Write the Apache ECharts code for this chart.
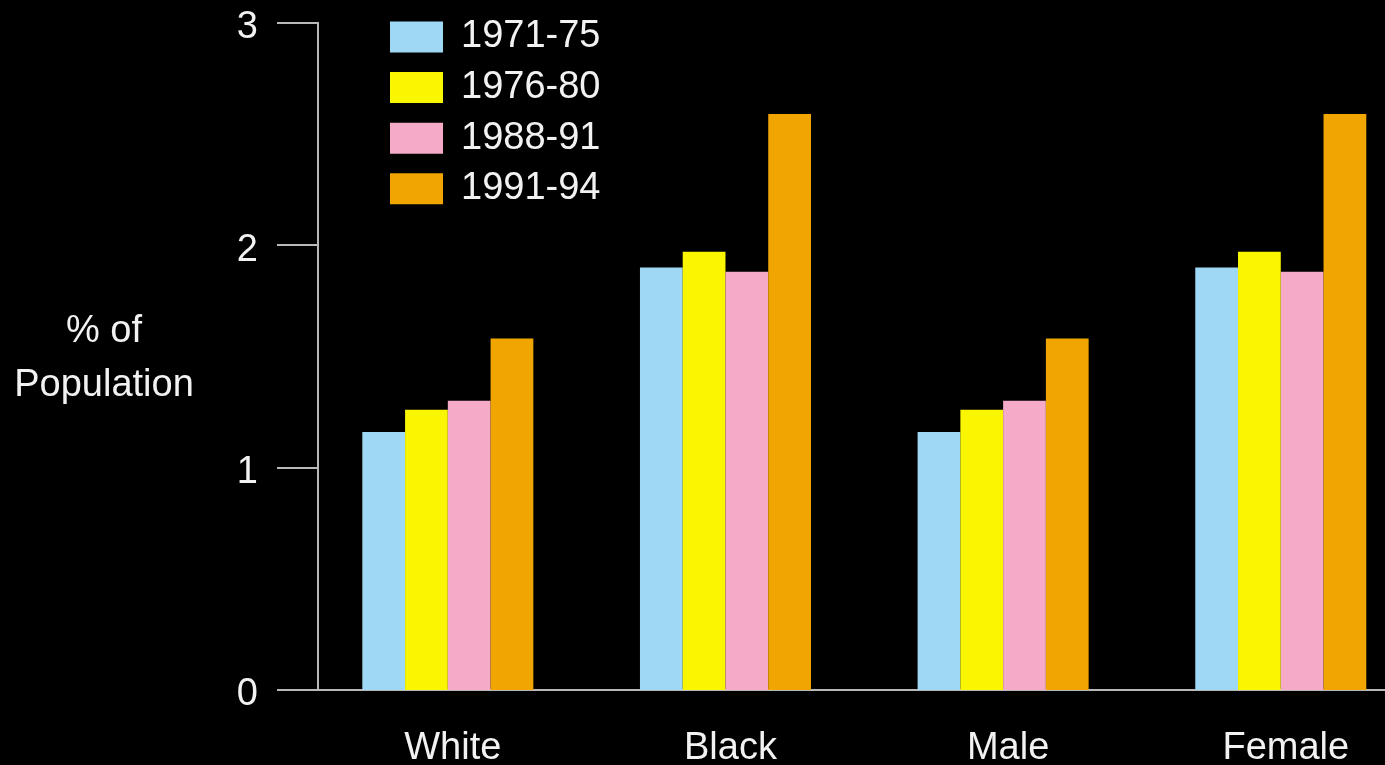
<!DOCTYPE html>
<html>
<head>
<meta charset="utf-8">
<script src="https://cdn.jsdelivr.net/npm/echarts@6/dist/echarts.min.js"></script>
<style>
  html, body { margin: 0; padding: 0; background: #000; overflow: hidden; }
  #chart { width: 1385px; height: 765px; }
</style>
</head>
<body>
<div id="chart"></div>
<script>
// Groups along the x axis
const categories = ['White', 'Black', 'Male', 'Female'];
// Period series, % of population
const periods = ['1971-75', '1976-80', '1988-91', '1991-94'];
const values1971 = [1.16, 1.90, 1.16, 1.90];
const values1976 = [1.26, 1.97, 1.26, 1.97];
const values1988 = [1.30, 1.88, 1.30, 1.88];
const values1991 = [1.58, 2.59, 1.58, 2.59];
const yTicks = { min: 0, max: 3, interval: 1 };

const colors = ['#9fd8f4', '#faf500', '#f5aac8', '#f0a500'];
const font = "'Liberation Sans', Arial, Helvetica, sans-serif";
const textColor = '#f2f2f2';
const axisColor = '#b8b8b8';

const seriesValues = [values1971, values1976, values1988, values1991];

const chart = echarts.init(document.getElementById('chart'), null, { renderer: 'canvas' });

chart.setOption({
  backgroundColor: '#000',
  animation: false,
  color: colors,
  // the plot area runs past the right edge, so the last band is cut short
  grid: {
    left: 309, top: 22.7, width: 1110.6, height: 667.3,
    containLabel: false,
    outerBoundsMode: 'none'
  },
  legend: {
    data: periods,
    orient: 'vertical',
    left: 390,
    top: 18,
    padding: 0,
    itemWidth: 53,
    itemHeight: 31,
    itemGap: 12.6,
    icon: 'rect',
    textStyle: {
      color: textColor,
      fontFamily: font,
      fontSize: 38,
      padding: [0, 0, 0, 13]
    }
  },
  xAxis: {
    type: 'category',
    data: categories,
    boundaryGap: true,
    axisLine: { lineStyle: { color: axisColor, width: 2 } },
    axisTick: { show: false },
    axisLabel: {
      color: textColor,
      fontFamily: font,
      fontSize: 38,
      margin: 40,
      padding: [0, 0, 0, 10]
    },
    splitLine: { show: false }
  },
  yAxis: {
    type: 'value',
    min: yTicks.min,
    max: yTicks.max,
    interval: yTicks.interval,
    offset: -9,
    axisLine: { show: true, lineStyle: { color: axisColor, width: 2 } },
    axisTick: { show: true, inside: false, length: 41, lineStyle: { color: axisColor, width: 2 } },
    axisLabel: {
      color: textColor,
      fontFamily: font,
      fontSize: 38,
      margin: 60,
      verticalAlign: 'top',
      lineHeight: 10
    },
    splitLine: { show: false }
  },
  graphic: [{
    type: 'text',
    x: 104,
    y: 359,
    style: {
      text: '% of\nPopulation',
      fill: textColor,
      font: '38px ' + font,
      align: 'center',
      verticalAlign: 'middle',
      lineHeight: 54
    }
  }],
  series: periods.map((name, i) => ({
    name: name,
    type: 'bar',
    data: seriesValues[i],
    barGap: '0%',
    barCategoryGap: '38.4%',
    itemStyle: { color: colors[i] }
  }))
});
</script>
</body>
</html>
